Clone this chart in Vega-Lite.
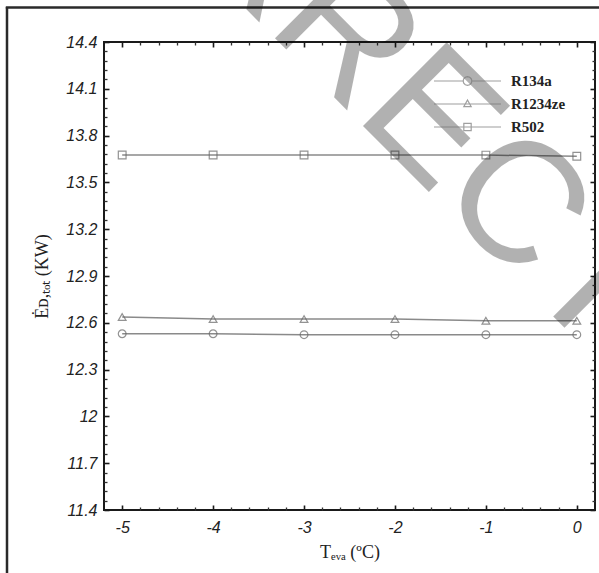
{
  "$schema": "https://vega.github.io/schema/vega-lite/v6.json",
  "width": 491,
  "height": 468,
  "autosize": {"type": "none"},
  "padding": {"left": 104, "top": 42, "right": 4, "bottom": 63},
  "background": "white",
  "config": {
    "view": {"stroke": "#1a1a1a", "strokeWidth": 2},
    "axis": {"grid": false, "domain": false, "labelFont": "Liberation Sans", "labelFontStyle": "italic", "labelFontSize": 16, "labelColor": "#222", "titleFont": "Liberation Serif", "titleFontWeight": "normal", "titleFontSize": 18, "titleColor": "#222", "labelOverlap": false, "labelFlush": false}
  },
  "datasets": {
    "main": [
      {"teva": -5, "ed": 12.53, "series": "R134a"},
      {"teva": -4, "ed": 12.53, "series": "R134a"},
      {"teva": -3, "ed": 12.524, "series": "R134a"},
      {"teva": -2, "ed": 12.524, "series": "R134a"},
      {"teva": -1, "ed": 12.524, "series": "R134a"},
      {"teva": 0, "ed": 12.524, "series": "R134a"},
      {"teva": -5, "ed": 12.637, "series": "R1234ze"},
      {"teva": -4, "ed": 12.624, "series": "R1234ze"},
      {"teva": -3, "ed": 12.624, "series": "R1234ze"},
      {"teva": -2, "ed": 12.624, "series": "R1234ze"},
      {"teva": -1, "ed": 12.613, "series": "R1234ze"},
      {"teva": 0, "ed": 12.613, "series": "R1234ze"},
      {"teva": -5, "ed": 13.676, "series": "R502"},
      {"teva": -4, "ed": 13.676, "series": "R502"},
      {"teva": -3, "ed": 13.676, "series": "R502"},
      {"teva": -2, "ed": 13.676, "series": "R502"},
      {"teva": -1, "ed": 13.675, "series": "R502"},
      {"teva": 0, "ed": 13.668, "series": "R502"}
    ],
    "mark": [{"word": "CORRECTED"}],
    "frame": [{"part": "frame"}]
  },
  "resolve": {"axis": {"x": "independent", "y": "independent"}, "scale": {"shape": "independent"}},
  "layer": [
    {
      "data": {"name": "main"},
      "mark": {"type": "line", "color": "#8a8a8a", "strokeWidth": 1.5},
      "encoding": {
        "x": {"field": "teva", "type": "quantitative",
          "scale": {"domain": [-5.2, 0.2], "nice": false, "zero": false},
          "axis": {"orient": "bottom", "title": "Tₑᵥₐ   (ºC)", "titlePadding": 8,
            "values": [-5, -4, -3, -2, -1, 0], "ticks": true, "tickColor": "#1a1a1a", "tickWidth": 1.6, "tickSize": -5, "labelPadding": 14,
            "labelExpr": "'' + round(datum.value)"}},
        "y": {"field": "ed", "type": "quantitative",
          "scale": {"domain": [11.4, 14.4], "nice": false, "zero": false},
          "axis": {"orient": "left", "title": "Ėᴅ,ₜₒₜ (KW)", "titlePadding": 14,
            "values": [11.4, 11.7, 12.0, 12.3, 12.6, 12.9, 13.2, 13.5, 13.8, 14.1, 14.4], "ticks": true, "tickColor": "#1a1a1a", "tickWidth": 1.6, "tickSize": -5, "labelPadding": 12,
            "labelExpr": "'' + round(datum.value * 10) / 10"}},
        "detail": {"field": "series"}
      }
    },
    {
      "data": {"name": "main"},
      "mark": {"type": "point", "filled": false, "size": 60, "strokeWidth": 1.2, "color": "#666"},
      "encoding": {
        "x": {"field": "teva", "type": "quantitative",
          "axis": {"orient": "top", "title": null, "labels": false, "ticks": true, "tickColor": "#1a1a1a", "tickWidth": 1.6, "tickSize": -5,
            "values": [-5, -4, -3, -2, -1, 0]}},
        "y": {"field": "ed", "type": "quantitative",
          "axis": {"orient": "right", "title": null, "labels": false, "ticks": true, "tickColor": "#1a1a1a", "tickWidth": 1.6, "tickSize": -5,
            "values": [11.4, 11.7, 12.0, 12.3, 12.6, 12.9, 13.2, 13.5, 13.8, 14.1, 14.4]}},
        "shape": {"field": "series", "type": "nominal", "legend": null,
          "scale": {"domain": ["R134a", "R1234ze", "R502"], "range": ["circle", "triangle-up", "square"]}}
      }
    },
    {
      "data": {"name": "main"},
      "transform": [{"filter": "false"}],
      "mark": {"type": "point", "filled": false, "strokeWidth": 1.2, "color": "#777"},
      "encoding": {
        "x": {"field": "teva", "type": "quantitative",
          "axis": {"orient": "bottom", "title": null, "labels": false, "ticks": true, "tickColor": "#333", "tickWidth": 1.3, "tickSize": -3,
            "values": [-4.8, -4.6, -4.4, -4.2, -3.8, -3.6, -3.4, -3.2, -2.8, -2.6, -2.4, -2.2, -1.8, -1.6, -1.4, -1.2, -0.8, -0.6, -0.4, -0.2]}},
        "y": {"field": "ed", "type": "quantitative",
          "axis": {"orient": "left", "title": null, "labels": false, "ticks": true, "tickColor": "#333", "tickWidth": 1.3, "tickSize": -3,
            "values": [11.46, 11.52, 11.58, 11.64, 11.76, 11.82, 11.88, 11.94, 12.06, 12.12, 12.18, 12.24, 12.36, 12.42, 12.48, 12.54, 12.66, 12.72, 12.78, 12.84, 12.96, 13.02, 13.08, 13.14, 13.26, 13.32, 13.38, 13.44, 13.56, 13.62, 13.68, 13.74, 13.86, 13.92, 13.98, 14.04, 14.16, 14.22, 14.28, 14.34]}},
        "shape": {"field": "series", "type": "nominal",
          "scale": {"domain": ["R134a", "R1234ze", "R502"],
            "range": ["M-1,0L-0.13,0M0.13,0L1,0M0.13,0L0.1126,0.065L0.065,0.1126L0,0.13L-0.065,0.1126L-0.1126,0.065L-0.13,0L-0.1126,-0.065L-0.065,-0.1126L0,-0.13L0.065,-0.1126L0.1126,-0.065Z",
                      "M-1,0L1,0M0,-0.12L0.11,0.08L-0.11,0.08Z",
                      "M-1,0L1,0M-0.11,-0.11L0.11,-0.11L0.11,0.11L-0.11,0.11Z"]},
          "legend": {"title": null, "orient": "none", "legendX": 329, "legendY": 31, "padding": 0,
            "symbolSize": 4489, "symbolStrokeWidth": 1.2, "symbolStrokeColor": "#777", "symbolFillColor": "transparent",
            "clipHeight": 16, "rowPadding": 7, "labelOffset": 9,
            "labelFont": "Liberation Serif", "labelFontWeight": "bold", "labelFontSize": 15, "labelColor": "#222"}}
      }
    },
    {
      "data": {"name": "main"},
      "transform": [{"filter": "false"}],
      "mark": {"type": "point"},
      "encoding": {
        "x": {"field": "teva", "type": "quantitative",
          "axis": {"orient": "top", "title": null, "labels": false, "ticks": true, "tickColor": "#333", "tickWidth": 1.3, "tickSize": -3,
            "values": [-4.8, -4.6, -4.4, -4.2, -3.8, -3.6, -3.4, -3.2, -2.8, -2.6, -2.4, -2.2, -1.8, -1.6, -1.4, -1.2, -0.8, -0.6, -0.4, -0.2]}},
        "y": {"field": "ed", "type": "quantitative",
          "axis": {"orient": "right", "title": null, "labels": false, "ticks": true, "tickColor": "#333", "tickWidth": 1.3, "tickSize": -3,
            "values": [11.46, 11.52, 11.58, 11.64, 11.76, 11.82, 11.88, 11.94, 12.06, 12.12, 12.18, 12.24, 12.36, 12.42, 12.48, 12.54, 12.66, 12.72, 12.78, 12.84, 12.96, 13.02, 13.08, 13.14, 13.26, 13.32, 13.38, 13.44, 13.56, 13.62, 13.68, 13.74, 13.86, 13.92, 13.98, 14.04, 14.16, 14.22, 14.28, 14.34]}}
      }
    },
    {
      "data": {"name": "frame"},
      "mark": {"type": "rule", "color": "#2a2a2a", "strokeWidth": 2.5},
      "encoding": {
        "x": {"datum": -6.2668, "type": "quantitative", "axis": null},
        "y": {"datum": 14.6244, "type": "quantitative", "axis": null},
        "y2": {"datum": 10.99}
      }
    },
    {
      "data": {"name": "frame"},
      "mark": {"type": "rule", "color": "#2a2a2a", "strokeWidth": 2.5},
      "encoding": {
        "x": {"datum": -6.28, "type": "quantitative", "axis": null},
        "x2": {"datum": 0.3},
        "y": {"datum": 14.6212, "type": "quantitative", "axis": null}
      }
    },
    {
      "data": {"name": "mark"},
      "mark": {"type": "text", "font": "Liberation Sans", "fontSize": 172, "angle": 45, "align": "center", "baseline": "alphabetic", "color": "#000", "opacity": 0.3},
      "encoding": {
        "x": {"datum": -2.165, "type": "quantitative", "axis": null},
        "y": {"datum": 13.752, "type": "quantitative", "axis": null},
        "text": {"field": "word"}
      }
    }
  ]
}
